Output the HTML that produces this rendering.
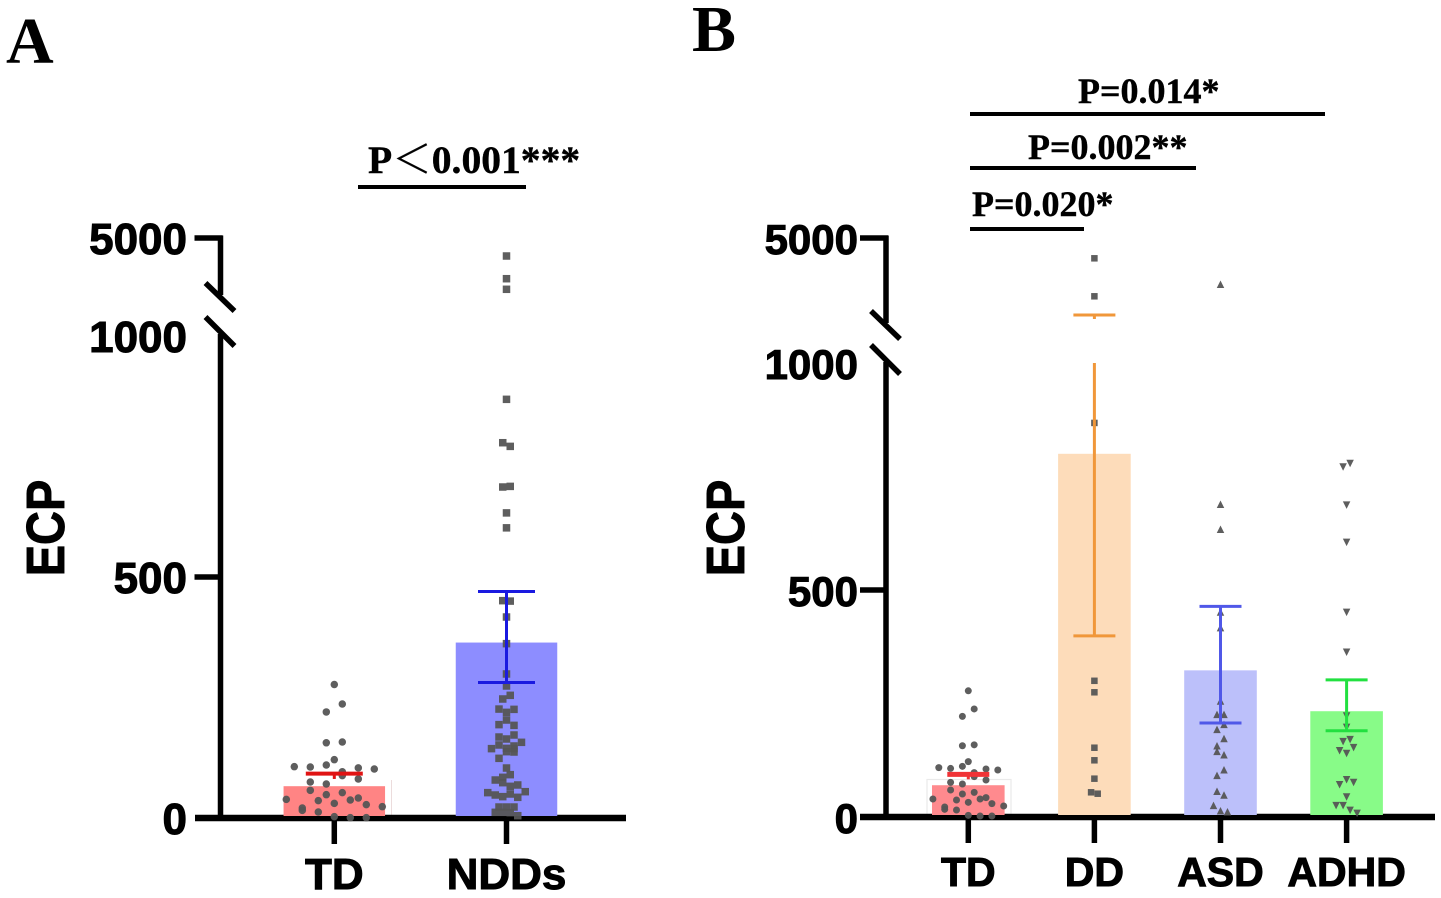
<!DOCTYPE html>
<html lang="en">
<head>
<meta charset="utf-8">
<title>ECP comparison charts</title>
<style>
html,body{margin:0;padding:0;background:#fff;}
svg{display:block;filter:blur(0.35px);}
.tick{font:bold 44px "Liberation Sans",sans-serif;fill:#000;stroke:#000;stroke-width:1px;}
.pval{font:bold 36px "Liberation Serif",serif;fill:#000;stroke:#000;stroke-width:0.4px;}
.ecp{font:bold 47px "Liberation Sans",sans-serif;fill:#000;stroke:#000;stroke-width:0.8px;}
</style>
</head>
<body>
<svg id="figure" width="1441" height="898" viewBox="0 0 1441 898" xmlns="http://www.w3.org/2000/svg">
  <rect width="1441" height="898" fill="#fff"/>
  <text x="6" y="63" style="font:bold 66px 'Liberation Serif',serif">A</text>
  <text x="692" y="51" style="font:bold 66px 'Liberation Serif',serif">B</text>
  <text class="ecp" transform="translate(64,528) rotate(-90) scale(1,1.15)" text-anchor="middle">ECP</text>
  <text class="ecp" transform="translate(744,528) rotate(-90) scale(1,1.15)" text-anchor="middle">ECP</text>
  <text x="368" y="173" style="font:bold 39.6px 'Liberation Serif','Noto Serif CJK SC',serif;stroke:#000;stroke-width:0.4px">P＜0.001***</text>
  <line x1="358" x2="526" y1="187" y2="187" stroke="#000" stroke-width="4"/>
  <text class="pval" x="1078" y="103">P=0.014*</text>
  <line x1="970" x2="1325" y1="114" y2="114" stroke="#000" stroke-width="4"/>
  <text class="pval" x="1028" y="159">P=0.002**</text>
  <line x1="970" x2="1196" y1="168" y2="168" stroke="#000" stroke-width="4"/>
  <text class="pval" x="972" y="216">P=0.020*</text>
  <line x1="970" x2="1084" y1="229" y2="229" stroke="#000" stroke-width="4"/>
</svg>
<script>
// ---------- Panel A data ----------
const categoriesA = ['TD', 'NDDs'];
const meansA = [66, 364];
const errHighA = [92, 470];
const errLowA = [81, 281];
const lowerCapA = [false, true];
const tickValuesA = [0, 500, 1000, 5000];
const tickLabelsA = ['0', '500', '1000', '5000'];
const tdValuesA = [277,236.5,220,156,157.7,121,106.5,105.8,110,104,101.7,96,88,81,74.7,70.5,57.4,52.6,48.4,38.7,36,37.3,41.5,30.4,27.7,20.7,15.9,23.5,12.4,2.8,0.7,0.7];
const tdSwarmA = [0,1,-1,-1,1,0,-5,-3,-1,3,5,1,1,3,-3,-1,-3,1,-1,-6,-2,2,3,0,4,-4,-4,6,-2,0,2,4];
const nddValuesA = [3892,2495,1843,868.6,778.6,771,686.7,688,633,602,450.9,450,417,361.7,298.8,273.9,254.5,246.9,226,225.4,219.2,203.3,193.7,192.2,172.2,168,163.9,157,151.5,143.9,149.4,144.5,143.9,137.6,136.9,123.8,103.7,89.9,84.4,78.8,73.3,68.5,65.7,52.6,47.7,44.3,49.8,42.9,54.6,22.8,22.8,22.8,11.8,11.8,11.1,4.8];
const nddSwarmA = [0,0,0,0,-1,1,-1,1,0,0,-1,1,0,0,0,0,1,-1,-2,2,0,0,-2,2,2,-2,0,4,-2,-4,2,0,2,0,2,-2,0,1,-1,-3,-1,3,1,-5,-3,-1,1,3,5,-2,0,2,-3,-1,1,3];

// ---------- Panel B data ----------
const categoriesB = ['TD', 'DD', 'ASD', 'ADHD'];
const meansB = [70, 800, 323, 233];
const errHighB = [94, 1652, 464, 302];
const errLowB = [83, 399, 207, 190];
const lowerCapB = [false, true, true, true];
const tickValuesB = [0, 500, 1000, 5000];
const tickLabelsB = ['0', '500', '1000', '5000'];
const tdValuesB = [278,238,221.7,157,159,121.9,108.7,107,111.6,105.7,103.5,97.7,88.9,81.5,76.3,72.7,59.5,54.3,50.7,42.6,39.6,39.6,37.4,32.3,29.4,22,16.9,24.2,15.4,3.7,2.2,2.2];
const tdSwarmB = [0,1,-1,-1,1,0,-5,-3,-1,3,5,1,1,3,-3,-1,-3,1,-1,3,2,-6,-2,0,4,-4,-4,6,-2,0,2,4];
const ddValuesB = [4117,2465,868,300,274.7,152.6,124.9,84.4,54.4,51.3];
const ddSwarmB = [0,0,0,0,0,0,0,0,-1,1];
const asdValuesB = [2987,689,633.7,451.5,417,255.5,226,226,204,193,173,157,144.6,137,104,91.8,56.6,48.5,25.7,13.9,11.7];
const asdSwarmB = [0,0,0,0,0,0,-1,1,1,-1,1,-1,-1,1,1,-1,-1,1,-2,0,2];
const adhdValuesB = [771,778.6,687,605,450.8,362.8,222.5,197.5,165.9,170.3,146,152.7,140,71,82,76,44,25,25,14.7,8];
const adhdSwarmB = [-1,1,0,0,0,0,0,0,-1,1,-2,2,0,-2,0,2,0,-3,-1,1,3];

// ---------- Axis functions ----------
function yA(v) { return v <= 1000 ? 818 - v * 0.482 : 238 + (5000 - v) * 65 / 4000; }
function yB(v) { return v <= 1000 ? 817 - v * 0.454 : 238 + (5000 - v) * 92 / 4000; }
function xA(i) { return 334.3 + i * 172.2; }
function xB(i) { return 968.3 + i * 126.1; }

const svg = document.getElementById('figure');
const NS = 'http://www.w3.org/2000/svg';
function make(tag, props) {
  const el = document.createElementNS(NS, tag);
  for (const k in props) el.setAttribute(k, props[k]);
  svg.appendChild(el);
  return el;
}
function axisLine(x1, y1, x2, y2, name, w) {
  const el = make('line', { x1: x1, y1: y1, x2: x2, y2: y2, stroke: '#000', 'stroke-width': w || 5.5 });
  
  
}
function drawAxes(p) {
  axisLine(p.axisX, p.y(5000) - 2.5, p.axisX, p.upperEnd, p.id + '-y-axis-upper');
  axisLine(p.axisX, p.lowerStart, p.axisX, p.y(0), p.id + '-y-axis-lower');
  axisLine(p.axisX - 26, p.y(5000), p.axisX + 2, p.y(5000), p.id + '-tick-5000');
  axisLine(p.axisX - 26, p.y(500), p.axisX, p.y(500), p.id + '-tick-500');
  axisLine(p.xStart, p.y(0), p.xEnd, p.y(0), p.id + '-x-axis', 6.5);
  axisLine(p.axisX - 15, p.upperEnd - 12, p.axisX + 14, p.upperEnd + 16, p.id + '-axis-break-upper');
  axisLine(p.axisX - 15, p.lowerStart - 17, p.axisX + 14, p.lowerStart + 12, p.id + '-axis-break-lower');
  p.tickValues.forEach(function (v, i) {
    const t = make('text', { x: p.labelX, y: p.y(v) + 16, 'text-anchor': 'end', class: 'tick', style: 'font-size:' + p.tickFont + 'px' });
    
    
    t.textContent = p.tickLabels[i];
  });
  p.categories.forEach(function (c, i) {
    axisLine(p.x(i), p.y(0), p.x(i), p.y(0) + 26, p.id + '-x-tick-' + c.toLowerCase());
    const t = make('text', { x: p.x(i), y: p.catY, 'text-anchor': 'middle', class: 'tick', style: 'font-size:' + p.catFont + 'px' });
    
    
    t.textContent = c;
  });
}
function drawBars(p) {
  p.categories.forEach(function (c, i) {
    const r = make('rect', { x: p.x(i) - p.barW / 2, y: p.y(p.means[i]), width: p.barW, height: p.y(0) - 2 - p.y(p.means[i]), fill: p.fills[i] });
    
    
  });
}
function drawErrors(p) {
  p.categories.forEach(function (c, i) {
    const hi = p.errHigh[i], lo = p.errLow[i], col = p.errColors[i], w = p.errW[i], half = p.capHalf;
    const name = p.id + '-error-bar-' + c.toLowerCase();
    const segs = hi > 1000 && lo <= 1000 ? [[hi, p.stemBreak], [1000, lo]] : [[hi, lo]];
    segs.forEach(function (s) {
      const l = make('line', { x1: p.x(i), x2: p.x(i), y1: p.y(s[0]), y2: p.y(s[1]), stroke: col, 'stroke-width': 3 });
      
      
    });
    const top = make('line', { x1: p.x(i) - half, x2: p.x(i) + half, y1: p.y(hi), y2: p.y(hi), stroke: col, 'stroke-width': w });
    
    
    if (p.lowerCap[i]) {
      const bot = make('line', { x1: p.x(i) - half, x2: p.x(i) + half, y1: p.y(lo), y2: p.y(lo), stroke: col, 'stroke-width': w });
      
      
    }
  });
}
function drawPoints(values, swarm, cx, slot, y, shape, size, name) {
  values.forEach(function (v, i) {
    const px = cx + swarm[i] * slot, py = y(v);
    let el;
    if (shape === 'circle') {
      el = make('circle', { cx: px, cy: py, r: size / 2 });
    } else if (shape === 'square') {
      el = make('rect', { x: px - size / 2, y: py - size / 2, width: size, height: size });
    } else {
      const d = shape === 'up' ? 1 : -1, h = size * 0.5;
      el = make('polygon', { points: [px, py - d * h, px - h, py + d * h, px + h, py + d * h].join(' ') });
    }
    el.setAttribute('fill', '#555');
    el.setAttribute('fill-opacity', '0.95');
    
    
  });
}

const panelA = { id: 'panel-a', y: yA, x: xA, axisX: 220.5, upperEnd: 295, lowerStart: 334, xStart: 195, xEnd: 626,
  labelX: 187, tickFont: 44, catFont: 44, catY: 889, categories: categoriesA, tickValues: tickValuesA, tickLabels: tickLabelsA,
  means: meansA, errHigh: errHighA, errLow: errLowA, lowerCap: lowerCapA, barW: 101.5, fills: ['#ff8484', '#8d8dff'],
  errColors: ['#e01414', '#1a1ae0'], errW: [4, 3], capHalf: 28.5, stemBreak: 1000 };
const panelB = { id: 'panel-b', y: yB, x: xB, axisX: 886, upperEnd: 323, lowerStart: 362, xStart: 860, xEnd: 1435,
  labelX: 858, tickFont: 42, catFont: 41, catY: 886, categories: categoriesB, tickValues: tickValuesB, tickLabels: tickLabelsB,
  means: meansB, errHigh: errHighB, errLow: errLowB, lowerCap: lowerCapB, barW: 72.6, fills: ['#ff8a8e', '#fddcba', '#bcc0fa', '#88fb88'],
  errColors: ['#f03236', '#f0973a', '#5058e8', '#22e040'], errW: [5, 3, 3, 3], capHalf: 21, stemBreak: 1478 };

// faint frames left by the original artwork
const frameA = make('line', { x1: 391.5, x2: 391.5, y1: 780, y2: 815, stroke: '#ecdcdc', 'stroke-width': 1 });


const frameB = make('rect', { x: 927, y: 779.5, width: 84, height: 36, fill: 'none', stroke: '#eaeaea', 'stroke-width': 1.2 });



drawAxes(panelA);
drawAxes(panelB);
drawBars(panelA);
drawBars(panelB);
drawPoints(tdValuesA, tdSwarmA, xA(0), 8, yA, 'circle', 7.5, 'panel-a-td-point');
drawPoints(nddValuesA, nddSwarmA, xA(1), 3.75, yA, 'square', 7.5, 'panel-a-ndds-point');
drawPoints(tdValuesB, tdSwarmB, xB(0), 5.9, yB, 'circle', 7, 'panel-b-td-point');
drawPoints(ddValuesB, ddSwarmB, xB(1), 3.3, yB, 'square', 6.5, 'panel-b-dd-point');
drawPoints(asdValuesB, asdSwarmB, xB(2), 3.5, yB, 'up', 7.5, 'panel-b-asd-point');
drawPoints(adhdValuesB, adhdSwarmB, xB(3), 3.5, yB, 'down', 7.5, 'panel-b-adhd-point');
drawErrors(panelA);
drawErrors(panelB);
</script>
</body>
</html>
